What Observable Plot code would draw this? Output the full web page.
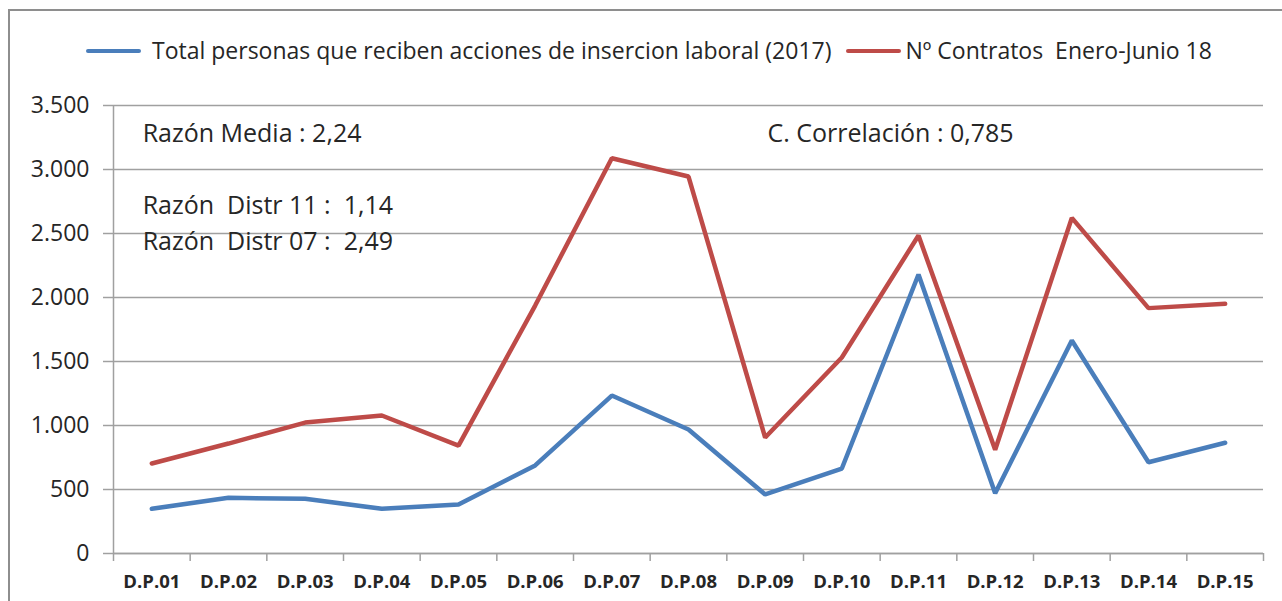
<!DOCTYPE html>
<html>
<head>
<meta charset="utf-8">
<script src="https://cdn.jsdelivr.net/npm/d3@7"></script>
<script src="https://cdn.jsdelivr.net/npm/@observablehq/plot@0.6"></script>
<style>
  html, body { margin: 0; padding: 0; background: #fff; }
  #wrap { position: relative; width: 1282px; height: 601px; overflow: hidden; background: #fff; font-family: "Open Sans", sans-serif; color: #262626; }
  #frame { position: absolute; left: 8px; top: 9px; width: 1320px; height: 700px; border: 2px solid #8e8e8e; box-sizing: border-box; }
  #legend { position: absolute; left: 86px; top: 39px; height: 23px; display: flex; align-items: center; font-size: 23px; line-height: 23px; white-space: pre; }
  .sw { display: inline-block; width: 55px; height: 4px; border-radius: 2px; }
  #chart { position: absolute; left: 0; top: 80px; }
</style>
</head>
<body>
<div id="wrap">
  <div id="frame"></div>
  <div id="legend"></div>
  <div id="chart"></div>
</div>
<script>
const categories = ["D.P.01","D.P.02","D.P.03","D.P.04","D.P.05","D.P.06","D.P.07","D.P.08","D.P.09","D.P.10","D.P.11","D.P.12","D.P.13","D.P.14","D.P.15"];
const personas = [349, 435, 427, 349, 383, 688, 1234, 969, 461, 664, 2180, 471, 1664, 713, 865];
const contratos = [703, 859, 1023, 1078, 843, 1937, 3088, 2945, 906, 1531, 2484, 810, 2622, 1917, 1951];
const yTicks = [0, 500, 1000, 1500, 2000, 2500, 3000, 3500];
const seriesNames = ["Total personas que reciben acciones de insercion laboral (2017)", "Nº Contratos  Enero-Junio 18"];
const colors = ["#4a7ebb", "#be4b48"];
const notes = ["Razón Media : 2,24", "C. Correlación : 0,785", "Razón\u00a0 Distr 11 :\u00a0 1,14", "Razón\u00a0 Distr 07 :\u00a0 2,49"];

// legend
const legend = document.getElementById("legend");
seriesNames.forEach((name, k) => {
  const sw = document.createElement("span");
  sw.className = "sw";
  sw.style.background = colors[k];
  sw.style.marginLeft = k === 0 ? "0px" : "15px";
  sw.style.marginRight = k === 0 ? "11px" : "4px";
  const t = document.createElement("span");
  t.textContent = name;
  legend.appendChild(sw);
  legend.appendChild(t);
});

const idx = categories.map((c, i) => i + 1);
const xDomain = [0.5, categories.length + 0.5];
const boundaries = d3.range(0, categories.length + 1).map(i => i + 0.5);
const data1 = categories.map((c, i) => ({i: i + 1, v: personas[i]}));
const data2 = categories.map((c, i) => ({i: i + 1, v: contratos[i]}));
const fmt = d => d3.format(",")(d).replace(/,/g, ".");
const gridColor = "#a0a0a0";

const chart = Plot.plot({
  width: 1282,
  height: 521,
  marginLeft: 113,
  marginRight: 19,
  marginTop: 25,
  marginBottom: 48,
  style: {fontFamily: "'Open Sans', sans-serif", background: "transparent", color: "#262626", overflow: "visible"},
  x: {type: "linear", domain: xDomain, label: null},
  y: {domain: [0, 3500], label: null},
  marks: [
    Plot.gridY(yTicks, {stroke: gridColor, strokeOpacity: 1, strokeWidth: 1.5}),
    Plot.axisY(yTicks, {label: null, tickSize: 10, tickPadding: 14, tickFormat: fmt, fontSize: 23, stroke: gridColor, strokeWidth: 1.5, fill: "#262626"}),
    Plot.ruleX([xDomain[0]], {stroke: gridColor, strokeWidth: 1.5}),
    Plot.ruleY([0], {stroke: gridColor, strokeWidth: 1.5}),
    Plot.axisX(boundaries, {label: null, tickSize: 8, tickFormat: () => "", stroke: gridColor, strokeWidth: 1.5}),
    Plot.axisX(idx, {label: null, tickSize: 0, tickPadding: 21, tickFormat: i => categories[i - 1], fontSize: 18.5, fontWeight: "bold", fill: "#262626"}),
    Plot.line(data1, {x: "i", y: "v", stroke: colors[0], strokeWidth: 4.5, strokeLinejoin: "miter", strokeLinecap: "round"}),
    Plot.line(data2, {x: "i", y: "v", stroke: colors[1], strokeWidth: 4.5, strokeLinejoin: "miter", strokeLinecap: "round"}),
    Plot.text([notes[0]], {x: 0.88, y: 3211, text: d => d, textAnchor: "start", lineAnchor: "bottom", fontSize: 25, fill: "#262626"}),
    Plot.text([notes[1]], {x: 9.03, y: 3211, text: d => d, textAnchor: "start", lineAnchor: "bottom", fontSize: 25, fill: "#262626"}),
    Plot.text([notes[2]], {x: 0.88, y: 2656, text: d => d, textAnchor: "start", lineAnchor: "bottom", fontSize: 25, fill: "#262626"}),
    Plot.text([notes[3]], {x: 0.88, y: 2375, text: d => d, textAnchor: "start", lineAnchor: "bottom", fontSize: 25, fill: "#262626"})
  ]
});
document.getElementById("chart").appendChild(chart);
</script>
</body>
</html>
